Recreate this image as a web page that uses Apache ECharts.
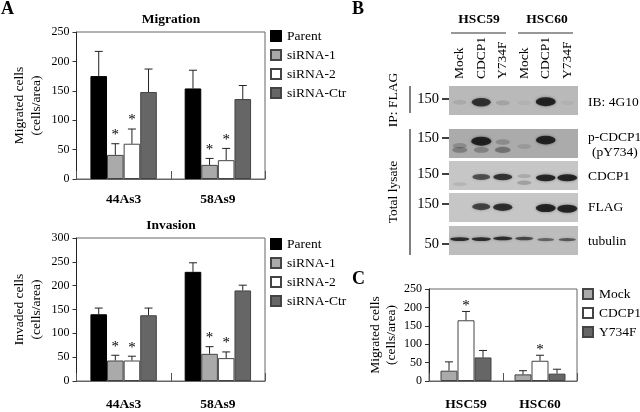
<!DOCTYPE html>
<html><head><meta charset="utf-8">
<style>html,body{margin:0;padding:0;background:#fff}#c{width:640px;height:412px}</style>
<script src="https://cdn.jsdelivr.net/npm/echarts@6/dist/echarts.min.js"></script>
</head><body><div id="c"></div>
<script>
const serif = '"Liberation Serif","Times New Roman",serif';
// Panel A
const cellLines = ['44As3', '58As9'];
const knockdownNames = ['Parent', 'siRNA-1', 'siRNA-2', 'siRNA-Ctr'];
const migrationMeans = [[175, 154], [41, 24], [60, 32], [148, 136]];
const migrationUppers = [[217, 185], [60, 35], [85, 52], [187, 159]];
const migrationStars = [[0, 0], [1, 1], [1, 1], [0, 0]];
const invasionMeans = [[140, 229], [43, 57], [43, 48], [138, 190]];
const invasionUppers = [[153, 248], [54, 72], [52, 61], [153, 201]];
const invasionStars = [[0, 0], [1, 1], [1, 1], [0, 0]];
// Panel C
const hscLines = ['HSC59', 'HSC60'];
const rescueNames = ['Mock', 'CDCP1', 'Y734F'];
const rescueMeans = [[28, 18], [165, 55], [64, 20]];
const rescueUppers = [[52, 28], [189, 70], [83, 32]];
const rescueStars = [[0, 0], [1, 1], [0, 0]];
// Panel B: bands as [lane, relative height in the strip, intensity]
const lanes = ['Mock', 'CDCP1', 'Y734F', 'Mock ', 'CDCP1 ', 'Y734F '];
const bands4G10 = [[0,.56,.1],[1,.56,.85],[2,.58,.14],[3,.58,.05],[4,.54,1],[5,.58,.05]];
const bandsPhospho = [[0,.58,.22],[0,.72,.3],[1,.42,1],[1,.72,.28],[2,.45,.22],[2,.72,.38],[3,.6,.12],[4,.38,.95]];
const bandsCDCP1 = [[0,.8,.1],[1,.55,.68],[2,.55,.85],[3,.52,.16],[3,.75,.22],[4,.58,.95],[5,.58,1]];
const bandsFLAG = [[1,.47,.75],[2,.49,.88],[4,.52,1],[5,.54,1]];
const bandsTubulin = [[0,.45,.9],[1,.45,.9],[2,.43,.9],[3,.43,.72],[4,.47,.55],[5,.47,.62]];

const seriesColors = {Parent:'#000','siRNA-1':'#aaa','siRNA-2':'#fff','siRNA-Ctr':'#666',Mock:'#aaa',CDCP1:'#fff',Y734F:'#666'};

const grids=[], xAxes=[], yAxes=[], series=[], legends=[], titles=[];

function barPanel(o){
  const g = grids.length;
  grids.push({left:o.left, width:o.width, top:o.top, height:o.height, show:true, borderColor:'#666', borderWidth:1, backgroundColor:'#fff'});
  xAxes.push({gridIndex:g, type:'category', data:o.cats,
    axisLine:{lineStyle:{color:'#666',width:1}},
    axisTick:{show:true,inside:true,length:8,lineStyle:{color:'#555'}},
    axisLabel:{fontFamily:serif,fontWeight:'bold',fontSize:13.5,color:'#000',margin:o.labelMargin}});
  yAxes.push({gridIndex:g, type:'value', min:0, max:o.max, interval:o.interval, splitLine:{show:false},
    name:o.yName, nameLocation:'middle', nameGap:o.nameGap, nameRotate:90,
    nameTextStyle:{fontFamily:serif,fontSize:13.5,color:'#000',lineHeight:o.nameLine},
    axisLine:{show:true,lineStyle:{color:'#222',width:1}},
    axisTick:{show:true,length:4,lineStyle:{color:'#333'}},
    axisLabel:{fontFamily:serif,fontSize:12,color:'#000',margin:7}});
  o.names.forEach((n,s)=>{
    series.push({type:'bar',name:n,xAxisIndex:g,yAxisIndex:g,data:o.means[s],barWidth:o.barW,barGap:'0%',
      itemStyle:{color:seriesColors[n],borderColor:n==='Parent'?'#000':'#444',borderWidth:1},silent:true});
  });
  const errData=[];
  o.names.forEach((n,s)=>o.cats.forEach((c,i)=>errData.push([i,o.means[s][i],o.uppers[s][i],s,o.stars[s][i]])));
  const count=o.names.length;
  series.push({type:'custom',xAxisIndex:g,yAxisIndex:g,data:errData,silent:true,z:5,clip:false,
    encode:{x:0,y:[1,2]},
    renderItem:(p,api)=>{
      const base=api.coord([api.value(0),api.value(1)]);
      const up=api.coord([api.value(0),api.value(2)]);
      const x=base[0]+(api.value(3)-(count-1)/2)*o.barW;
      const st={stroke:'#222',lineWidth:1};
      const kids=[
        {type:'line',shape:{x1:x,y1:base[1],x2:x,y2:up[1]},style:st},
        {type:'line',shape:{x1:x-4,y1:up[1],x2:x+4,y2:up[1]},style:st}];
      if(api.value(4)) kids.push({type:'text',style:{text:'*',x:x,y:up[1]-1+o.starDrop,align:'center',verticalAlign:'bottom',font:'15px '+serif,fill:'#000'}});
      return {type:'group',children:kids};
    }});
  legends.push({orient:'vertical',left:o.legendLeft,top:o.legendTop,padding:0,itemWidth:10,itemHeight:10,itemGap:o.legendGap,
    data:o.names,icon:'rect',selectedMode:false,textStyle:{fontFamily:serif,fontSize:13.5,color:'#000',padding:[0,0,0,1]}});
  if(o.title) titles.push({text:o.title,left:o.titleX,top:o.titleY,textAlign:'center',padding:0,
    textStyle:{fontFamily:serif,fontWeight:'bold',fontSize:13.5,color:'#000'}});
}

barPanel({left:76.5,top:32,width:188.5,height:147,cats:cellLines,names:knockdownNames,means:migrationMeans,uppers:migrationUppers,stars:migrationStars,
  max:250,interval:50,barW:16.6,yName:'Migrated cells\n(cells/area)',nameGap:32,nameLine:17,starDrop:0,labelMargin:14,legendLeft:270,legendTop:29,legendGap:5,title:'Migration',titleX:171,titleY:13});
barPanel({left:76.5,top:238,width:188.5,height:147,cats:cellLines,names:knockdownNames,means:invasionMeans,uppers:invasionUppers,stars:invasionStars,
  max:300,interval:50,barW:16.6,yName:'Invaded cells\n(cells/area)',nameGap:32,nameLine:17,starDrop:0,labelMargin:17,legendLeft:270,legendTop:237,legendGap:5,title:'Invasion',titleX:171,titleY:219});
barPanel({left:429,top:289,width:148,height:95,cats:hscLines,names:rescueNames,means:rescueMeans,uppers:rescueUppers,stars:rescueStars,
  max:250,interval:50,barW:17,yName:'Migrated cells\n(cells/area)',nameGap:30,nameLine:16,starDrop:3,labelMargin:17,legendLeft:582,legendTop:287,legendGap:5});

// Blot strips
const strips=[
  {top:86,height:29,bg:'#b9b9b9',bands:bands4G10,h:9,labels:true},
  {top:129,height:29,bg:'#ababab',bands:bandsPhospho,h:9},
  {top:161,height:29,bg:'#c6c6c6',bands:bandsCDCP1,h:7},
  {top:193,height:29,bg:'#c6c6c6',bands:bandsFLAG,h:8},
  {top:226,height:29,bg:'#bdbdbd',bands:bandsTubulin,h:4}
];
strips.forEach(s=>{
  const g=grids.length;
  grids.push({left:449,width:129,top:s.top,height:s.height,show:true,borderWidth:0,backgroundColor:s.bg});
  xAxes.push({gridIndex:g,type:'category',data:lanes,position:'top',axisLine:{show:false},axisTick:{show:false},
    axisLabel:{show:!!s.labels,rotate:90,margin:7,fontFamily:serif,fontSize:13.5,color:'#000',interval:0}});
  yAxes.push({gridIndex:g,type:'value',min:0,max:1,inverse:true,show:false});
  s.bands.forEach(b=>{
    const i=b[2];
    series.push({type:'scatter',xAxisIndex:g,yAxisIndex:g,silent:true,data:[[b[0],b[1]]],
      symbol:'circle',symbolSize:[13+7*i,s.h*(.5+.5*i)],
      itemStyle:{color:'rgba(10,10,10,'+Math.min(1,i*1.05)+')',shadowBlur:3,shadowColor:'rgba(10,10,10,'+(i*.5)+')'}});
  });
});

// Text annotations
const T=(text,x,y,o={})=>({type:'text',silent:true,style:Object.assign({text,x,y,align:'left',verticalAlign:'middle',font:(o.bold?'bold ':'')+(o.size||13.5)+'px '+serif,fill:'#000'},o.style||{})});
const R=(text,x,y)=>({type:'text',silent:true,x,y,rotation:Math.PI/2,style:{text,x:0,y:0,align:'center',verticalAlign:'middle',font:'13.5px '+serif,fill:'#000'}});
const L=(x1,y1,x2,y2,w,c)=>({type:'line',silent:true,shape:{x1,y1,x2,y2},style:{stroke:c||'#000',lineWidth:w||1}});
const panelLetters=[['A',1,9],['B',352,9],['C',352,279]];
const groupLabels=[['HSC59',479],['HSC60',547]];
const sideLabels=[['IB: 4G10',588,102],['p-CDCP1',588,137],['(pY734)',592,152],['CDCP1',588,176],['FLAG',588,207],['tubulin',588,241]];
const weightLabels=[['150',99],['150',138],['150',174],['150',204],['50',244]];
const graphic=[
  ...panelLetters.map(p=>T(p[0],p[1],p[2],{bold:true,size:18})),
  ...groupLabels.map(p=>T(p[0],p[1],20,{bold:true,style:{align:'center'}})),
  L(451,33,506,33,1,'#333'),L(518,33,573,33,1,'#333'),
  ...sideLabels.map(p=>T(p[0],p[1],p[2])),
  ...weightLabels.map(p=>T(p[0],439,p[1],{size:14.5,style:{align:'right'}})),
  ...weightLabels.map(p=>L(442,p[1],449,p[1],1.5)),
  R('IP: FLAG',393,100),R('Total lysate',393,192),
  L(410,86,410,113,1),L(410,129,410,255,1)
];

const chart=echarts.init(document.getElementById('c'),null,{renderer:'canvas'});
chart.setOption({animation:false,backgroundColor:'#fff',title:titles,legend:legends,grid:grids,xAxis:xAxes,yAxis:yAxes,series,graphic:{elements:graphic}});
</script></body></html>
